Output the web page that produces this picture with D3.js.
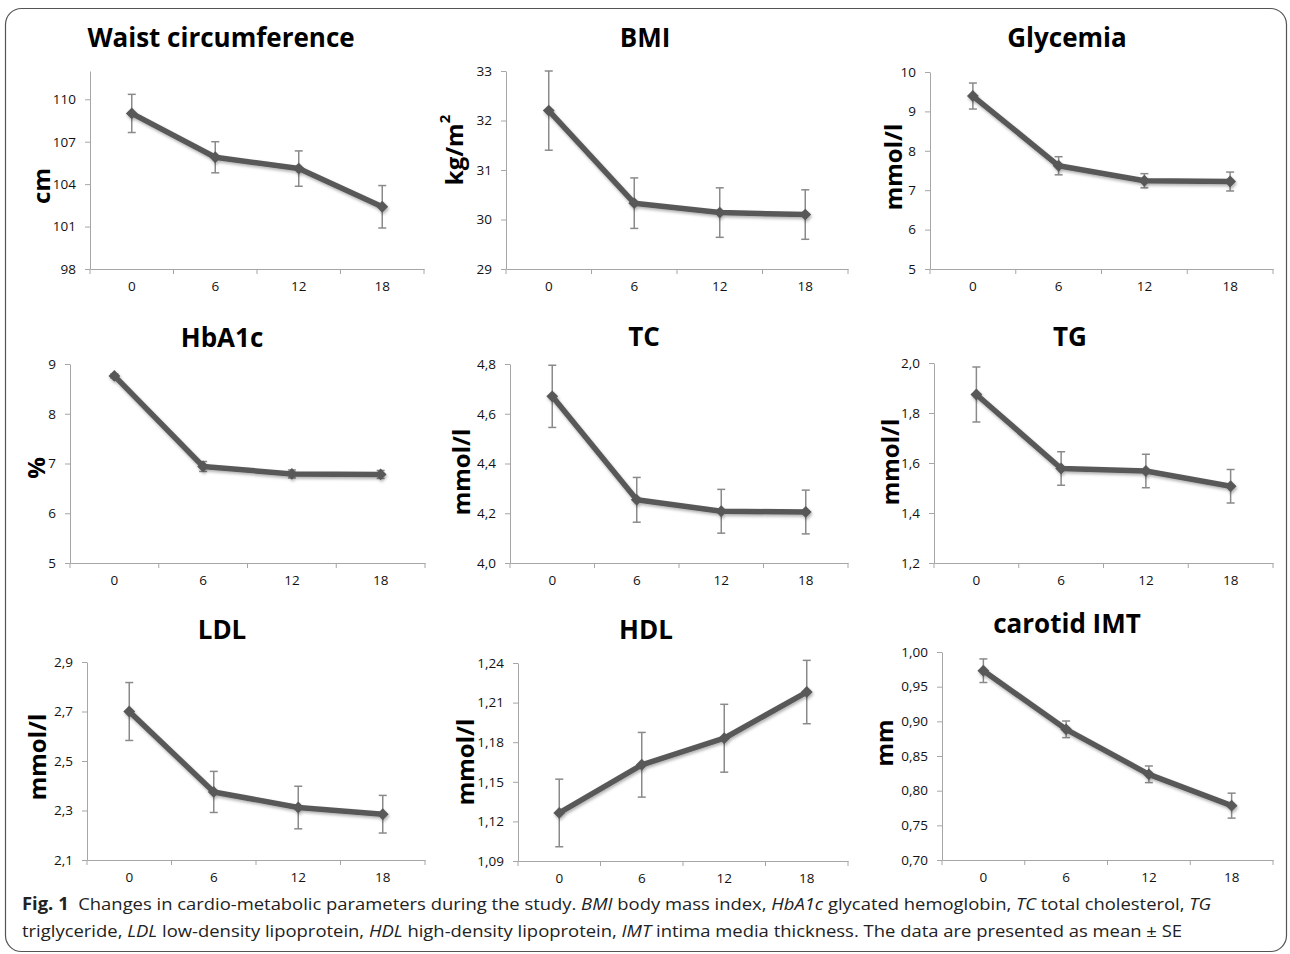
<!DOCTYPE html>
<html>
<head>
<meta charset="utf-8">
<script src="https://cdn.jsdelivr.net/npm/d3@7"></script>
<style>
  body { margin: 0; background: #fff; }
  svg { display: block; }
</style>
</head>
<body>
<div id="chart"></div>
<script>
const months = ["0", "6", "12", "18"];

const titles = ["Waist circumference", "BMI", "Glycemia", "HbA1c", "TC", "TG", "LDL", "HDL", "carotid IMT"];
const units = ["cm", "kg/m2", "mmol/l", "%", "mmol/l", "mmol/l", "mmol/l", "mmol/l", "mm"];

const waistMean = [109.0, 105.9, 105.1, 102.4];
const waistSE = [1.35, 1.1, 1.25, 1.5];
const bmiMean = [32.2, 30.33, 30.14, 30.1];
const bmiSE = [0.8, 0.51, 0.5, 0.5];
const glycemiaMean = [9.39, 7.62, 7.24, 7.22];
const glycemiaSE = [0.33, 0.23, 0.18, 0.24];
const hba1cMean = [8.76, 6.94, 6.79, 6.78];
const hba1cSE = [0.04, 0.1, 0.08, 0.08];
const tcMean = [4.67, 4.254, 4.208, 4.205];
const tcSE = [0.125, 0.09, 0.088, 0.088];
const tgMean = [1.874, 1.578, 1.568, 1.507];
const tgSE = [0.11, 0.067, 0.067, 0.067];
const ldlMean = [2.70, 2.375, 2.312, 2.285];
const ldlSE = [0.117, 0.083, 0.086, 0.076];
const hdlMean = [1.1264, 1.1629, 1.183, 1.218];
const hdlSE = [0.0256, 0.0245, 0.0257, 0.024];
const imtMean = [0.973, 0.8885, 0.8236, 0.7784];
const imtSE = [0.017, 0.012, 0.012, 0.018];

const waistTicks = [98, 101, 104, 107, 110];
const bmiTicks = [29, 30, 31, 32, 33];
const glycemiaTicks = [5, 6, 7, 8, 9, 10];
const hba1cTicks = [5, 6, 7, 8, 9];
const tcTicks = [4.0, 4.2, 4.4, 4.6, 4.8];
const tgTicks = [1.2, 1.4, 1.6, 1.8, 2.0];
const ldlTicks = [2.1, 2.3, 2.5, 2.7, 2.9];
const hdlTicks = [1.09, 1.12, 1.15, 1.18, 1.21, 1.24];
const imtTicks = [0.70, 0.75, 0.80, 0.85, 0.90, 0.95, 1.00];

// waist axis runs a bit past its last labelled tick
const yMax = [112, 33, 10, 9, 4.8, 2.0, 2.9, 1.24, 1.00];
const decimals = [0, 0, 0, 0, 1, 1, 1, 2, 2];

const panels = titles.map((t, i) => ({
  title: t,
  unit: units[i],
  mean: [waistMean, bmiMean, glycemiaMean, hba1cMean, tcMean, tgMean, ldlMean, hdlMean, imtMean][i],
  se: [waistSE, bmiSE, glycemiaSE, hba1cSE, tcSE, tgSE, ldlSE, hdlSE, imtSE][i],
  ticks: [waistTicks, bmiTicks, glycemiaTicks, hba1cTicks, tcTicks, tgTicks, ldlTicks, hdlTicks, imtTicks][i],
  max: yMax[i],
  dec: decimals[i]
}));

// plot frames: x0/x1 axis span, yTop/yBot pixel rows, title and unit label anchors
const layout = [
  { x0: 90, x1: 424, yTop: 71, yBot: 269, tx: 221, ty: 47, lx: 40, ly: 186 },
  { x0: 506, x1: 848, yTop: 71, yBot: 269, tx: 645, ty: 47, lx: 453, ly: 150 },
  { x0: 930, x1: 1273, yTop: 72, yBot: 269, tx: 1067, ty: 47, lx: 892, ly: 167 },
  { x0: 70, x1: 425, yTop: 364, yBot: 563, tx: 222, ty: 347, lx: 35, ly: 468 },
  { x0: 510, x1: 848, yTop: 364, yBot: 563, tx: 644, ty: 346, lx: 460, ly: 472 },
  { x0: 934, x1: 1273, yTop: 363, yBot: 563, tx: 1070, ty: 346, lx: 889, ly: 462 },
  { x0: 87, x1: 425, yTop: 662, yBot: 860, tx: 222, ty: 639, lx: 36, ly: 757 },
  { x0: 518, x1: 848, yTop: 663, yBot: 861, tx: 646, ty: 639, lx: 464, ly: 762 },
  { x0: 942, x1: 1273, yTop: 652, yBot: 860, tx: 1067, ty: 633, lx: 883, ly: 743 }
];

const width = 1290;
const height = 954;
const lineColor = "#595959";
const axisColor = "#a6a6a6";
const barColor = "#8a8a8a";

const svg = d3.select("#chart")
  .append("svg")
  .attr("width", width)
  .attr("height", height);

const defs = svg.append("defs");
defs.append("filter")
  .attr("id", "shadow")
  .attr("x", "-10%").attr("y", "-10%")
  .attr("width", "120%").attr("height", "130%")
  .append("feDropShadow")
  .attr("dx", 1).attr("dy", 2)
  .attr("stdDeviation", 1.6)
  .attr("flood-color", "#000")
  .attr("flood-opacity", 0.3);

svg.append("rect")
  .attr("x", 5.5).attr("y", 8.5)
  .attr("width", 1281).attr("height", 943)
  .attr("rx", 16)
  .attr("fill", "#fff")
  .attr("stroke", "#555")
  .attr("stroke-width", 1.2);

panels.forEach((p, i) => {
  const L = layout[i];
  const g = svg.append("g");

  const x = d3.scaleBand().domain(months).range([L.x0, L.x1]);
  const y = d3.scaleLinear().domain([p.ticks[0], p.max]).range([L.yBot, L.yTop]);
  const fmt = v => d3.format("." + p.dec + "f")(v).replace(".", ",");

  // y axis
  const ya = g.append("g")
    .attr("transform", `translate(${L.x0},0)`)
    .call(d3.axisLeft(y).tickValues(p.ticks).tickFormat(fmt).tickSize(5).tickSizeOuter(0).tickPadding(9));

  // x axis: labels at band centers, ticks at band edges
  const xa = g.append("g")
    .attr("transform", `translate(0,${L.yBot})`)
    .call(d3.axisBottom(x).tickSize(0).tickPadding(12));
  xa.selectAll(".edge")
    .data(d3.range(months.length + 1))
    .enter()
    .append("line")
    .attr("class", "edge")
    .attr("x1", d => L.x0 + d * x.bandwidth())
    .attr("x2", d => L.x0 + d * x.bandwidth())
    .attr("y1", 0).attr("y2", 5);

  [ya, xa].forEach(a => {
    a.selectAll("path.domain").attr("stroke", axisColor);
    a.selectAll("line").attr("stroke", axisColor);
    a.selectAll("text")
      .attr("fill", "#111")
      .attr("font-family", "'Open Sans', sans-serif")
      .attr("font-size", 13.5);
  });

  const cx = m => x(m) + x.bandwidth() / 2;
  const pts = months.map((m, j) => ({ m: m, v: p.mean[j], s: p.se[j] }));

  // error bars
  const eb = g.append("g").attr("stroke", barColor).attr("stroke-width", 1.5).attr("fill", "none");
  pts.forEach(d => {
    eb.append("line")
      .attr("x1", cx(d.m)).attr("x2", cx(d.m))
      .attr("y1", y(d.v - d.s)).attr("y2", y(d.v + d.s));
    [d.v - d.s, d.v + d.s].forEach(v => {
      eb.append("line")
        .attr("x1", cx(d.m) - 4).attr("x2", cx(d.m) + 4)
        .attr("y1", y(v)).attr("y2", y(v));
    });
  });

  const line = d3.line()
    .x(d => cx(d.m))
    .y(d => y(d.v));

  const series = g.append("g").attr("filter", "url(#shadow)");
  series.append("path")
    .datum(pts)
    .attr("d", line)
    .attr("fill", "none")
    .attr("stroke", lineColor)
    .attr("stroke-width", 5.5)
    .attr("stroke-linejoin", "round");

  series.selectAll(".marker")
    .data(pts)
    .enter()
    .append("path")
    .attr("class", "marker")
    .attr("d", d3.symbol().type(d3.symbolSquare).size(70))
    .attr("transform", d => `translate(${cx(d.m)},${y(d.v)}) rotate(45)`)
    .attr("fill", lineColor);

  // title
  g.append("text")
    .attr("x", L.tx).attr("y", L.ty)
    .attr("text-anchor", "middle")
    .attr("font-family", "'Open Sans', sans-serif")
    .attr("font-weight", 700)
    .attr("font-size", 26)
    .attr("fill", "#000")
    .text(p.title);

  // unit label
  const ut = g.append("text")
    .attr("transform", `translate(${L.lx},${L.ly}) rotate(-90)`)
    .attr("text-anchor", "middle")
    .attr("dominant-baseline", "central")
    .attr("font-family", "'Open Sans', sans-serif")
    .attr("font-weight", 700)
    .attr("font-size", 24)
    .attr("fill", "#000");
  if (p.unit === "kg/m2") {
    ut.append("tspan").text("kg/m");
    ut.append("tspan").attr("dy", -9).attr("font-size", 15).text("2");
  } else {
    ut.text(p.unit);
  }
});

// caption
const capFont = "'Open Sans', sans-serif";
const cap1 = svg.append("text")
  .attr("x", 22).attr("y", 910)
  .attr("font-family", capFont)
  .attr("font-size", 17)
  .attr("fill", "#222")
  .attr("textLength", 1189)
  .attr("lengthAdjust", "spacingAndGlyphs");
[
  ["Fig. 1", "b"], ["  Changes in cardio-metabolic parameters during the study. ", ""],
  ["BMI", "i"], [" body mass index, ", ""], ["HbA1c", "i"], [" glycated hemoglobin, ", ""],
  ["TC", "i"], [" total cholesterol, ", ""], ["TG", "i"]
].forEach(s => {
  cap1.append("tspan")
    .attr("font-weight", s[1] === "b" ? 700 : 400)
    .attr("font-style", s[1] === "i" ? "italic" : "normal")
    .attr("xml:space", "preserve")
    .text(s[0]);
});

const cap2 = svg.append("text")
  .attr("x", 22).attr("y", 937)
  .attr("font-family", capFont)
  .attr("font-size", 17)
  .attr("fill", "#222")
  .attr("textLength", 1160)
  .attr("lengthAdjust", "spacingAndGlyphs");
[
  ["triglyceride, ", ""], ["LDL", "i"], [" low-density lipoprotein, ", ""],
  ["HDL", "i"], [" high-density lipoprotein, ", ""], ["IMT", "i"],
  [" intima media thickness. The data are presented as mean \u00b1 SE", ""]
].forEach(s => {
  cap2.append("tspan")
    .attr("font-style", s[1] === "i" ? "italic" : "normal")
    .text(s[0]);
});
</script>
</body>
</html>
